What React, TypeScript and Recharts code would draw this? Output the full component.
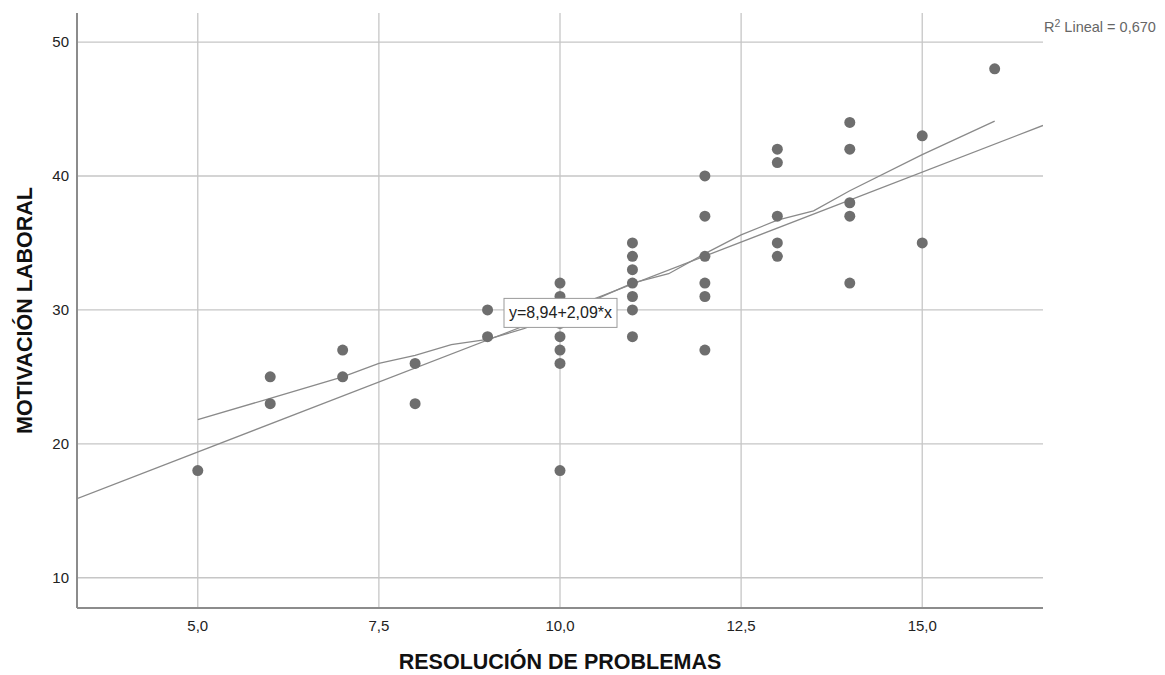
import { ScatterChart, Scatter, XAxis, YAxis, CartesianGrid, ReferenceDot } from 'recharts';

// observed cases (RESOLUCIÓN DE PROBLEMAS, MOTIVACIÓN LABORAL)
const resolucion = [
    5, 6, 6, 7, 7, 8, 8, 9, 9,
    10, 10, 10, 10, 10, 10, 10, 10,
    11, 11, 11, 11, 11, 11, 11,
    12, 12, 12, 12, 12, 12,
    13, 13, 13, 13, 13,
    14, 14, 14, 14, 14,
    15, 15, 16,
];
const motivacion = [
    18, 25, 23, 27, 25, 26, 23, 30, 28,
    32, 31, 30, 29, 28, 27, 26, 18,
    35, 34, 33, 32, 31, 30, 28,
    40, 37, 34, 32, 31, 27,
    42, 41, 37, 35, 34,
    44, 42, 38, 37, 32,
    43, 35, 48,
];

// loess-type smoother
const smoothX = [5, 6, 7, 7.5, 8, 8.5, 9, 9.5, 10, 10.5, 11, 11.5, 12, 12.5, 13, 13.5, 14, 15, 16];
const smoothY = [21.8, 23.4, 25.0, 26.0, 26.6, 27.4, 27.8, 28.6, 29.6, 30.8, 32.0, 32.7, 34.2, 35.6, 36.7, 37.4, 38.9, 41.6, 44.1];

// linear fit
const intercept = 8.94;
const slope = 2.09;
const r2 = '0,670';

const xDomain: [number, number] = [3.333, 16.667];
const yDomain: [number, number] = [7.74, 52.17];
const xTicks = [5, 7.5, 10, 12.5, 15];
const yTicks = [10, 20, 30, 40, 50];

const points = resolucion.map((x, i) => ({ x, y: motivacion[i] }));
const smooth = smoothX.map((x, i) => ({ x, y: smoothY[i] }));
const fit = xDomain.map((x) => ({ x, y: intercept + slope * x }));

const fmt = (v: number) => v.toFixed(1).replace('.', ',');
function fmt2(v: number) {
    return v.toFixed(2).replace('.', ',');
}
const eqText = `y=${fmt2(intercept)}+${fmt2(slope)}*x`;

const font = '"Liberation Sans", Arial, sans-serif';
const lineStyle = { stroke: '#8a8a8a', strokeWidth: 1.3 };

export default function App() {
    return (
        <div style={{ position: 'absolute', left: 0, top: 0, width: 1165, height: 675, fontFamily: font, background: '#fff' }}>
            <ScatterChart width={1165} height={675} margin={{ top: 13, right: 122, bottom: 0, left: 0 }}>
                <CartesianGrid stroke="#c6c6c6" strokeWidth={1.3} horizontalValues={yTicks} verticalValues={xTicks} />
                <XAxis
                    type="number"
                    dataKey="x"
                    domain={xDomain}
                    ticks={xTicks}
                    allowDataOverflow
                    height={67}
                    tickFormatter={fmt}
                    tickLine={false}
                    tickMargin={6}
                    axisLine={{ stroke: '#8c8c8c', strokeWidth: 2 }}
                    tick={{ fill: '#222', fontSize: 15, fontFamily: font }}
                    label={{ value: 'RESOLUCIÓN DE PROBLEMAS', position: 'insideBottom', offset: 6, fill: '#111', fontSize: 21.5, fontWeight: 'bold', fontFamily: font }}
                />
                <YAxis
                    type="number"
                    dataKey="y"
                    domain={yDomain}
                    ticks={yTicks}
                    allowDataOverflow
                    width={77}
                    tickLine={false}
                    axisLine={{ stroke: '#8c8c8c', strokeWidth: 2 }}
                    tick={{ fill: '#222', fontSize: 15, fontFamily: font }}
                    label={{ value: 'MOTIVACIÓN LABORAL', angle: -90, position: 'insideLeft', offset: 24, fill: '#111', fontSize: 21.5, fontWeight: 'bold', fontFamily: font, style: { textAnchor: 'middle' } }}
                />
                <Scatter data={fit} line={lineStyle} shape={() => <g />} isAnimationActive={false} />
                <Scatter data={smooth} line={lineStyle} shape={() => <g />} isAnimationActive={false} />
                <Scatter
                    data={points}
                    isAnimationActive={false}
                    shape={(p: any) => <circle cx={p.cx} cy={p.cy} r={5.5} fill="#6e6e6e" />}
                />
                <ReferenceDot
                    x={10}
                    y={30}
                    r={0}
                    shape={(p: any) => (
                        <g>
                            <rect x={p.cx - 56} y={p.cy - 11.5} width={113} height={29} fill="#fff" stroke="#9a9a9a" strokeWidth={1} />
                            <text x={p.cx + 0.5} y={p.cy + 8.5} textAnchor="middle" fontSize={16} fill="#222" fontFamily={font}>
                                {eqText}
                            </text>
                        </g>
                    )}
                />
            </ScatterChart>
            <div style={{ position: 'absolute', left: 1044, top: 18, fontSize: 14.5, color: '#666', whiteSpace: 'nowrap', lineHeight: 1 }}>
                R<sup style={{ fontSize: 10.5, verticalAlign: 5 }}>2</sup> Lineal = {r2}
            </div>
        </div>
    );
}
